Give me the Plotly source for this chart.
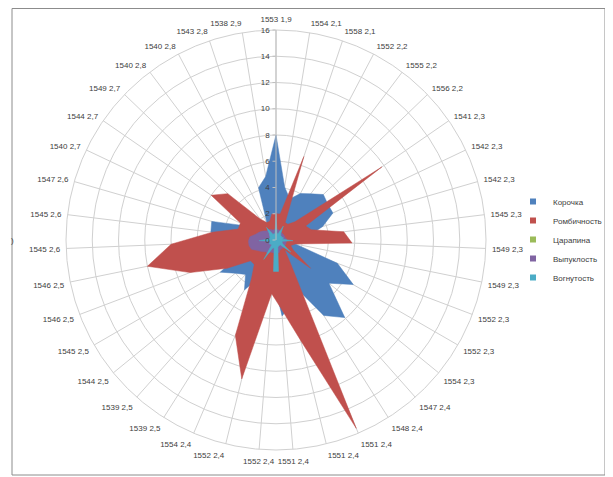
import plotly.graph_objects as go

categories = ["1553 1,9", "1554 2,1", "1558 2,1", "1552 2,2", "1555 2,2", "1556 2,2",
              "1541 2,3", "1542 2,3", "1542 2,3", "1545 2,3", "1549 2,3", "1549 2,3",
              "1552 2,3", "1552 2,3", "1554 2,3", "1547 2,4", "1548 2,4", "1551 2,4",
              "1551 2,4", "1551 2,4", "1552 2,4", "1552 2,4", "1554 2,4", "1539 2,5",
              "1539 2,5", "1544 2,5", "1545 2,5", "1546 2,5", "1546 2,5", "1545 2,6",
              "1545 2,6", "1547 2,6", "1540 2,7", "1544 2,7", "1549 2,7", "1540 2,8",
              "1540 2,8", "1543 2,8", "1538 2,9"]

korochka = [8.0, 4.1, 3.3, 4.0, 4.4, 5.0, 4.8, 4.8, 3.7, 2.5, 1.0, 1.5, 5.0, 6.8, 5.2,
            7.9, 6.8, 4.0, 5.0, 5.8, 3.0, 3.0, 3.0, 4.5, 3.5, 4.0, 4.9, 3.0, 3.0, 4.0,
            5.0, 5.1, 2.5, 2.0, 2.0, 1.5, 1.5, 4.2, 4.9]
rombichnost = [2.0, 2.0, 6.7, 1.5, 1.5, 2.0, 9.8, 2.5, 2.8, 5.2, 5.8, 1.5, 1.2, 1.5, 3.4,
               1.0, 2.0, 15.6, 7.9, 5.3, 4.1, 10.9, 7.9, 3.5, 2.5, 2.5, 4.3, 7.0, 10.0, 8.0,
               4.9, 3.0, 3.0, 6.0, 5.1, 2.0, 1.5, 1.5, 2.0]
tsarapina = [0.5, 0.4, 0.4, 0.5, 0.4, 0.4, 0.5, 0.4, 0.4, 0.5, 0.5, 0.4, 0.4, 0.5, 0.4,
             0.4, 0.5, 0.4, 0.4, 0.5, 0.5, 0.4, 0.5, 0.5, 0.4, 0.4, 0.5, 0.6, 0.6, 0.6,
             0.6, 0.5, 0.5, 0.5, 0.4, 0.4, 0.4, 0.5, 0.4]
vypuklost = [0.8, 0.8, 0.8, 0.7, 0.7, 0.7, 0.7, 0.7, 0.7, 0.8, 0.8, 0.8, 0.8, 0.8, 0.8,
             0.8, 0.8, 0.8, 1.0, 1.0, 1.0, 1.0, 1.0, 1.2, 1.2, 1.4, 1.6, 2.0, 2.1, 2.1,
             2.0, 1.6, 1.4, 1.2, 1.0, 1.0, 0.9, 0.8, 0.8]
vognutost = [2.0, 0.5, 0.5, 1.2, 0.6, 0.5, 0.5, 0.5, 0.6, 0.5, 1.3, 0.5, 0.5, 0.6, 1.45,
             0.5, 0.5, 0.5, 0.6, 2.4, 2.4, 0.6, 0.7, 1.75, 0.5, 0.5, 0.6, 0.5, 0.5, 1.3,
             0.6, 0.5, 0.5, 0.6, 0.7, 1.2, 0.5, 0.5, 0.5]

series = [("Корочка", korochka, "#4F81BD"),
          ("Ромбичность", rombichnost, "#C0504D"),
          ("Царапина", tsarapina, "#9BBB59"),
          ("Выпуклость", vypuklost, "#8064A2"),
          ("Вогнутость", vognutost, "#4BACC6")]

n = len(categories)
theta = [i * 360.0 / n for i in range(n)]

fig = go.Figure()
for name, vals, col in series:
    fig.add_trace(go.Scatterpolar(
        r=vals + vals[:1], theta=theta + theta[:1], name=name,
        mode="lines", fill="toself", fillcolor=col, showlegend=False,
        line=dict(color=col, width=0.5), hoverinfo="skip"))
# legend keys (small squares, as in the original)
for name, vals, col in series:
    fig.add_trace(go.Scatterpolar(
        r=[None], theta=[None], name=name, mode="markers",
        marker=dict(symbol="square", size=6, color=col), showlegend=True))

# the page body has an 8px margin, so the figure is offset by 8px
OFF = 8
W, H = 613 - OFF, 477 - OFF
cx, cy, R = 276 - OFF, 240 - OFF, 210
FONT = "Liberation Sans, Arial, sans-serif"
fig.update_layout(
    width=W, height=H,
    margin=dict(l=0, r=0, t=0, b=0, autoexpand=False),
    paper_bgcolor="white", plot_bgcolor="white",
    font=dict(family=FONT, size=8, color="#404040"),
    polar=dict(
        domain=dict(x=[(cx - R) / W, (cx + R) / W],
                    y=[(H - cy - R) / H, (H - cy + R) / H]),
        bgcolor="white",
        angularaxis=dict(
            rotation=90, direction="clockwise",
            tickmode="array", tickvals=theta, ticktext=categories,
            showgrid=True, gridcolor="#d0d0d0", gridwidth=1,
            showline=True, linecolor="#d0d0d0", linewidth=1,
            ticks="outside", ticklen=4, tickcolor="rgba(0,0,0,0)",
            tickfont=dict(family=FONT, size=8, color="#404040")),
        radialaxis=dict(
            range=[0, 16], dtick=2, angle=90, tickangle=90,
            side="counterclockwise",
            showgrid=True, gridcolor="#d0d0d0", gridwidth=1,
            showline=True, linecolor="#bfbfbf", linewidth=1,
            ticks="outside", ticklen=3, tickcolor="#bfbfbf",
            tickfont=dict(family=FONT, size=8, color="#404040")),
    ),
    legend=dict(x=(513 - OFF) / W, y=1 - (187 - OFF) / H, xanchor="left", yanchor="top",
                font=dict(family=FONT, size=8, color="#404040"), itemwidth=30,
                bgcolor="rgba(0,0,0,0)"),
    showlegend=True,
    shapes=[dict(type="rect", xref="paper", yref="paper",
                 x0=(12 - OFF) / W, x1=(605 - OFF) / W,
                 y0=1 - (475 - OFF) / H, y1=1 - 0.5 / H,
                 line=dict(color="#8c8c8c", width=1))],
    annotations=[dict(text=")", x=0.5 / W, y=1 - (240 - OFF) / H, xref="paper", yref="paper",
                      xanchor="left", showarrow=False, font=dict(size=8, color="#404040"))],
)

fig.write_html("out.html")
